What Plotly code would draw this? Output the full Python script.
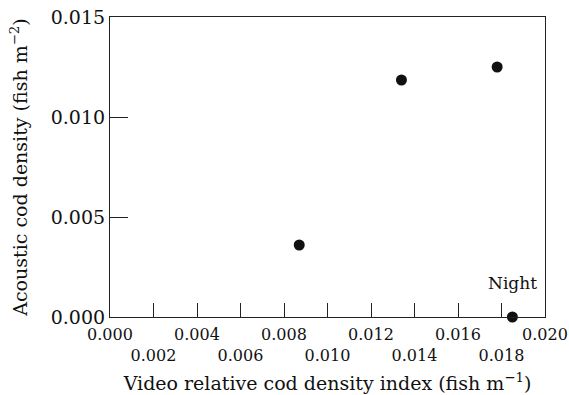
import plotly.graph_objects as go

video_index = [0.0087, 0.0134, 0.0178, 0.0185]
acoustic_density = [0.0036, 0.01185, 0.0125, 0.0]
x_tickvals = [0.000, 0.002, 0.004, 0.006, 0.008, 0.010, 0.012, 0.014, 0.016, 0.018, 0.020]
x_ticklabels = ["0.000", "0.002", "0.004", "0.006", "0.008", "0.010",
                "0.012", "0.014", "0.016", "0.018", "0.020"]
y_tickvals = [0.000, 0.005, 0.010, 0.015]
y_ticklabels = ["0.000", "0.005", "0.010", "0.015"]
night_label = "Night"

# alternate labels drop to a second row
x_ticktext = [t if i % 2 == 0 else " <br>" + t for i, t in enumerate(x_ticklabels)]

FONT = "DejaVu Serif"
AX = "#222222"

fig = go.Figure()
fig.add_trace(go.Scatter(
    x=video_index, y=acoustic_density, mode="markers",
    marker=dict(size=11, color="#111111"),
    showlegend=False, cliponaxis=False,
))

fig.add_annotation(x=video_index[3], y=acoustic_density[3], text=night_label,
                   showarrow=False, yshift=34, xanchor="center", yanchor="middle",
                   font=dict(family=FONT, size=17, color="#111111"))

fig.update_layout(
    width=569, height=395,
    margin=dict(l=110, r=24, t=17, b=78, autoexpand=False),
    paper_bgcolor="white", plot_bgcolor="white",
    font=dict(family=FONT, color="#111111"),
    xaxis=dict(
        range=[0, 0.020], tickvals=x_tickvals, ticktext=x_ticktext,
        tickangle=0, automargin=False, ticklabelstandoff=3,
        ticklabeloverflow="allow",
        ticks="inside", ticklen=14, tickwidth=1, tickcolor=AX,
        showline=True, linecolor=AX, linewidth=1.2, mirror=True,
        showgrid=False, zeroline=False,
        tickfont=dict(family=FONT, size=16),
        title=dict(text="Video relative cod density index (fish m<sup>\u22121</sup>)",
                   font=dict(family=FONT, size=19), standoff=12),
    ),
    yaxis=dict(
        range=[0, 0.015], tickvals=y_tickvals, ticktext=y_ticklabels,
        automargin=False, ticklabeloverflow="allow",
        ticks="inside", ticklen=18, tickwidth=1, tickcolor=AX,
        showline=True, linecolor=AX, linewidth=1.2, mirror=True,
        showgrid=False, zeroline=False,
        tickfont=dict(family=FONT, size=19),
        title=dict(text="Acoustic cod density (fish m<sup>\u22122</sup>)",
                   font=dict(family=FONT, size=19), standoff=18),
    ),
)

fig.write_html("out.html")
